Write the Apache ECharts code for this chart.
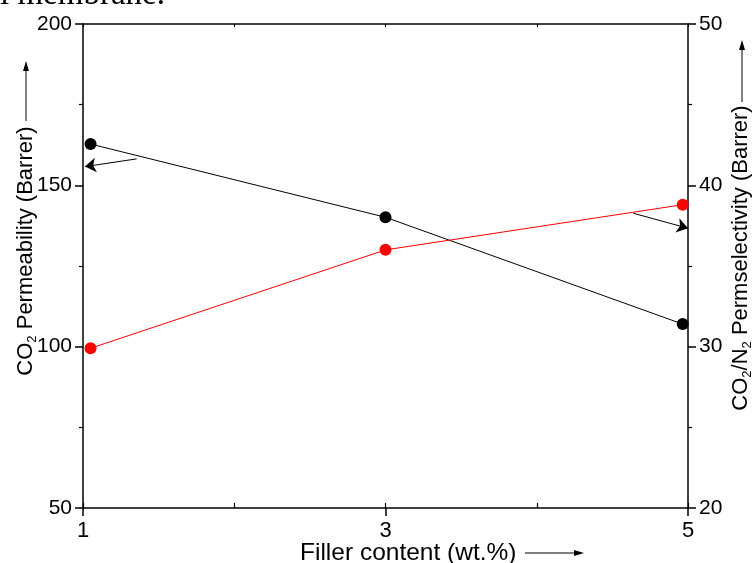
<!DOCTYPE html>
<html>
<head>
<meta charset="utf-8">
<script src="https://cdn.jsdelivr.net/npm/echarts@6/dist/echarts.min.js"></script>
<style>html,body{margin:0;padding:0;background:#fff}#c{width:755px;height:563px}</style>
</head>
<body>
<div id="c"></div>
<script>
// Data
var fillerContent = [1.05, 3.0, 4.965];          // wt.%
var co2Permeability = [162.8, 140.1, 107.0];     // Barrer (left axis)
var co2n2Selectivity = [29.9, 36.0, 38.8];       // right axis
var xTickLabels = ['1', '3', '5'];
// Annotation arrows pointing to their axes (data coords)
var permArrowStart = [1.355, 158.2];
var permArrowEnd = [1.013, 155.8];
var selArrowStart = [4.638, 38.27];
var selArrowEnd = [5.0, 37.34];

var F = '"Liberation Sans", Arial, Helvetica, sans-serif';
var chart = echarts.init(document.getElementById('c'));

function pairs(xs, ys) { return xs.map(function (x, i) { return [x, ys[i]]; }); }

var axisLineStyle = { color: '#000', width: 1.5 };

chart.setOption({
  animation: false,
  backgroundColor: '#fff',
  grid: { left: 83, right: 67, top: 24, bottom: 55, containLabel: false },
  xAxis: [
    {
      type: 'value', min: 1, max: 5, interval: 2, position: 'bottom',
      axisLine: { show: true, lineStyle: axisLineStyle },
      axisTick: { show: true, inside: false, length: 8, lineStyle: { color: '#000', width: 1.5 } },
      axisLabel: {
        show: true, margin: 12, color: '#000', fontFamily: F, fontSize: 22,
        formatter: function (v) { var i = xTickLabels.indexOf(String(v)); return i >= 0 ? xTickLabels[i] : ''; }
      },
      splitLine: { show: false }
    },
    {
      type: 'value', min: 1, max: 5, interval: 1, position: 'bottom',
      axisLine: { show: false },
      axisTick: { show: true, inside: true, length: 5, lineStyle: { color: '#000', width: 1.2 } },
      axisLabel: { show: false }, splitLine: { show: false }
    },
    {
      type: 'value', min: 1, max: 5, interval: 1, position: 'top',
      axisLine: { show: true, lineStyle: axisLineStyle },
      axisTick: { show: true, inside: true, length: 3, lineStyle: { color: '#000', width: 1 } },
      axisLabel: { show: false }, splitLine: { show: false }
    }
  ],
  yAxis: [
    {
      type: 'value', min: 50, max: 200, interval: 50, position: 'left',
      axisLine: { show: true, lineStyle: axisLineStyle },
      axisTick: { show: true, inside: false, length: 8, lineStyle: { color: '#000', width: 1.5 } },
      minorTick: { show: true, splitNumber: 2, length: 4, lineStyle: { color: '#000', width: 1.2 } },
      axisLabel: { margin: 11, color: '#000', fontFamily: F, fontSize: 21 },
      splitLine: { show: false }
    },
    {
      type: 'value', min: 20, max: 50, interval: 10, position: 'right',
      axisLine: { show: true, lineStyle: axisLineStyle },
      axisTick: { show: true, inside: false, length: 8, lineStyle: { color: '#000', width: 1.5 } },
      minorTick: { show: true, splitNumber: 2, length: 4, lineStyle: { color: '#000', width: 1.2 } },
      axisLabel: { margin: 11, color: '#000', fontFamily: F, fontSize: 21 },
      splitLine: { show: false }
    }
  ],
  series: [
    {
      name: 'CO2 Permeability', type: 'line', xAxisIndex: 0, yAxisIndex: 0,
      data: pairs(fillerContent, co2Permeability),
      symbol: 'circle', symbolSize: 12, showSymbol: true,
      itemStyle: { color: '#000' }, lineStyle: { color: '#000', width: 1 },
      markLine: {
        silent: true, symbol: ['none', 'arrow'], symbolSize: 11,
        label: { show: false }, lineStyle: { color: '#000', width: 1, type: 'solid' },
        data: [[{ coord: permArrowStart }, { coord: permArrowEnd }]]
      }
    },
    {
      name: 'CO2/N2 Permselectivity', type: 'line', xAxisIndex: 0, yAxisIndex: 1,
      data: pairs(fillerContent, co2n2Selectivity),
      symbol: 'circle', symbolSize: 12, showSymbol: true,
      itemStyle: { color: '#ff0000' }, lineStyle: { color: '#ff0000', width: 1 },
      markLine: {
        silent: true, symbol: ['none', 'arrow'], symbolSize: 11,
        label: { show: false }, lineStyle: { color: '#000', width: 1, type: 'solid' },
        data: [[{ coord: selArrowStart }, { coord: selArrowEnd }]]
      }
    }
  ],
  graphic: [
    { type: 'text', left: 0, top: -21, style: { text: 'l membrane.', font: '33px "Liberation Serif", "Times New Roman", serif', fill: '#000' } },
    {
      type: 'text', x: 26, y: 251, rotation: Math.PI / 2,
      style: {
        text: '{a|CO}{s|2}{a| Permeability (Barrer)}', align: 'center', verticalAlign: 'middle',
        rich: {
          a: { fontFamily: F, fontSize: 22, lineHeight: 26, color: '#000' },
          s: { fontFamily: F, fontSize: 13, lineHeight: 14, verticalAlign: 'bottom', color: '#000' }
        }
      }
    },
    { type: 'line', shape: { x1: 26, y1: 121, x2: 26, y2: 68 }, style: { stroke: '#000', lineWidth: 1 } },
    { type: 'polygon', shape: { points: [[26, 61], [23, 71], [29, 71]] }, style: { fill: '#000' } },
    {
      type: 'text', x: 741, y: 258, rotation: Math.PI / 2,
      style: {
        text: '{a|CO}{s|2}{a|/N}{s|2}{a| Permselectivity (Barrer)}', align: 'center', verticalAlign: 'middle',
        rich: {
          a: { fontFamily: F, fontSize: 22, lineHeight: 26, color: '#000' },
          s: { fontFamily: F, fontSize: 13, lineHeight: 14, verticalAlign: 'bottom', color: '#000' }
        }
      }
    },
    { type: 'line', shape: { x1: 742, y1: 102, x2: 742, y2: 48 }, style: { stroke: '#000', lineWidth: 1 } },
    { type: 'polygon', shape: { points: [[742, 40], [739, 50], [745, 50]] }, style: { fill: '#000' } },
    {
      type: 'text', x: 300, y: 553,
      style: { text: 'Filler content (wt.%)', font: '24.5px ' + F, fill: '#000', align: 'left', verticalAlign: 'middle' }
    },
    { type: 'line', shape: { x1: 525, y1: 553, x2: 576, y2: 553 }, style: { stroke: '#000', lineWidth: 1 } },
    { type: 'polygon', shape: { points: [[584, 553], [574, 550], [574, 556]] }, style: { fill: '#000' } }
  ]
});
</script>
</body>
</html>
